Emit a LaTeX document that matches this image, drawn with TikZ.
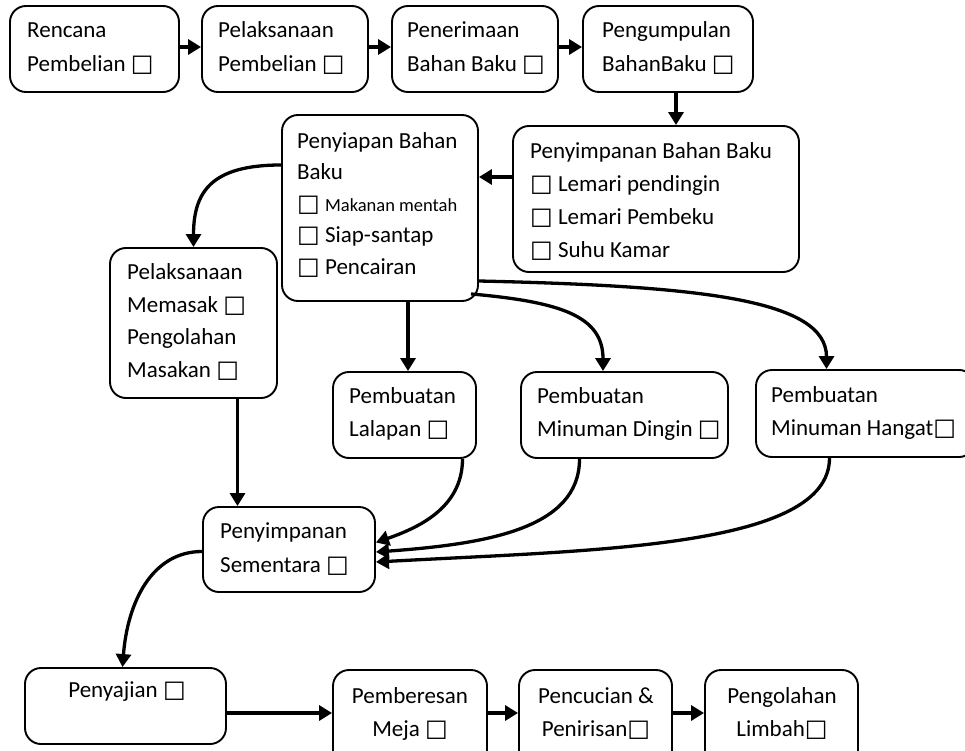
\documentclass[tikz,border=0pt]{standalone}
\usepackage{fontspec}
\setmainfont{Carlito}
\newfontfamily\symfont{DejaVu Sans}
\usetikzlibrary{arrows.meta}
% hollow check box used after the labels
\newcommand\bx{{\symfont\fontsize{24}{24}\selectfont □}}
% rounded box from (x1,y1) to (x2,y2), y growing downwards
\newcommand\flowbox[5]{\node[boxsty, minimum width={(#4-#2)*1pt}, minimum height={(#5-#3)*1pt}] (#1) at ({(#2+#4)/2},{(#3+#5)/2}) {};}
% label: optional style, name, x, first baseline, text
\newcommand\flowtext[5][]{\node[txt,anchor=north west,#1] (#2) at ({#3},{#4-23.1}) {\strut #5};}
\begin{document}
\begin{tikzpicture}[x=1pt,y=-1pt,
  boxsty/.style={draw, line width=1.9pt, rounded corners=16pt, inner sep=0pt},
  txt/.style={inner sep=0pt, align=left, font=\fontsize{23}{33}\selectfont},
  arr/.style={line width=3.3pt, -{Triangle[length=13pt,width=15pt]}},
]
\useasboundingbox (0,0) rectangle (965,751);

% first row
\flowbox{b1}{10}{6}{179}{92}
\flowbox{b2}{202}{6}{368}{92}
\flowbox{b3}{392}{6}{558}{92}
\flowbox{b4}{583}{6}{753}{92}
\flowtext[font=\fontsize{23}{34}\selectfont]{t1}{27}{37}{Rencana\\Pembelian \bx}
\flowtext[font=\fontsize{23}{34}\selectfont]{t2}{218}{37}{Pelaksanaan\\Pembelian \bx}
\flowtext[font=\fontsize{23}{34}\selectfont]{t3}{407}{37}{Penerimaan\\Bahan Baku \bx}
\flowtext[font=\fontsize{23}{34}\selectfont]{t4}{602}{37}{Pengumpulan\\BahanBaku \bx}

% storage and preparation
\flowbox{b5}{513}{126}{799}{272}
\flowtext{t5}{530}{158}{Penyimpanan Bahan Baku\\\bx{} Lemari pendingin\\\bx{} Lemari Pembeku\\\bx{} Suhu Kamar}
\flowbox{b6}{282}{115}{478}{301}
\flowtext[font=\fontsize{23}{31.5}\selectfont]{t6}{297}{149}{Penyiapan Bahan\\Baku\\\bx{} {\fontsize{18.5}{18}\selectfont Makanan mentah}\\\bx{} Siap-santap\\\bx{} Pencairan}
\flowbox{b7}{110}{248}{277}{398}
\flowtext[font=\fontsize{23}{32.5}\selectfont]{t7}{127}{280}{Pelaksanaan\\Memasak \bx\\Pengolahan\\Masakan \bx}

% side preparations
\flowbox{b8}{333}{372}{476}{458}
\flowbox{b9}{521}{372}{728}{458}
\flowbox{b10}{756}{370}{975}{457}
\flowtext{t8}{349}{403}{Pembuatan\\Lalapan \bx}
\flowtext{t9}{537}{403}{Pembuatan\\Minuman Dingin \bx}
\flowtext{t10}{771}{402}{Pembuatan\\Minuman Hangat\bx}

% temporary storage
\flowbox{b11}{203}{507}{375}{592}
\flowtext[font=\fontsize{23}{34}\selectfont]{t11}{220}{538}{Penyimpanan\\Sementara \bx}

% last row
\flowbox{b12}{25}{668}{226}{744}
\flowbox{b13}{333}{670}{487}{770}
\flowbox{b14}{519}{670}{672}{770}
\flowbox{b15}{705}{670}{858}{770}
\flowtext[anchor=north,align=center]{t12}{127}{697}{Penyajian \bx}
\flowtext[anchor=north,align=center]{t13}{410}{703}{Pemberesan\\Meja \bx}
\flowtext[anchor=north,align=center]{t14}{596}{703}{Pencucian \&\\Penirisan\bx}
\flowtext[anchor=north,align=center]{t15}{782}{703}{Pengolahan\\Limbah\bx}

% connectors
\draw[arr] ([yshift=2pt]b1.east) -- ([yshift=2pt]b2.west);
\draw[arr] ([yshift=2pt]b2.east) -- ([yshift=2pt]b3.west);
\draw[arr] ([yshift=2pt]b3.east) -- ([yshift=2pt]b4.west);
\draw[arr] ([xshift=8pt]b4.south) -- ([xshift=8pt]b4.south |- b5.north);
\draw[arr] ([yshift=22pt]b5.west) -- ([yshift=22pt]b5.west -| b6.east);
\draw[arr] ([yshift=43pt]b6.west) .. controls +(-70,0) and +(0,-55) .. (b7.north);
\draw[arr] ([xshift=28pt]b6.south) -- ([xshift=28pt]b6.south |- b8.north);
\draw[arr] ([xshift=-8pt,yshift=8pt]b6.south east) .. controls +(90,8) and +(0,-55) .. ([xshift=-21.5pt]b9.north);
\draw[arr] ([yshift=-73pt]b6.east) .. controls +(220,5) and +(0,-70) .. ([xshift=-39pt]b10.north);
\draw[arr] ([xshift=44pt]b7.south) -- ([xshift=44pt]b7.south |- b11.north);
\draw[arr] ([xshift=58pt]b8.south) .. controls +(0,50) and +(40,-14) .. ([yshift=7pt]b11.east);
\draw[arr] ([xshift=-45pt]b9.south) .. controls +(0,70) and +(110,-8) .. ([yshift=-2.5pt]b11.east);
\draw[arr] ([xshift=-36pt]b10.south) .. controls +(0,90) and +(220,-12) .. ([yshift=-12.5pt]b11.east);
\draw[arr] ([yshift=-2pt]b11.west) .. controls +(-50,0) and +(5,-65) .. ([xshift=-3pt]b12.north);
\draw[arr] ([yshift=-7pt]b12.east) -- ([yshift=-7pt]b12.east -| b13.west);
\draw[arr] ([yshift=-7pt]b12.east -| b13.east) -- ([yshift=-7pt]b12.east -| b14.west);
\draw[arr] ([yshift=-7pt]b12.east -| b14.east) -- ([yshift=-7pt]b12.east -| b15.west);
\end{tikzpicture}
\end{document}
